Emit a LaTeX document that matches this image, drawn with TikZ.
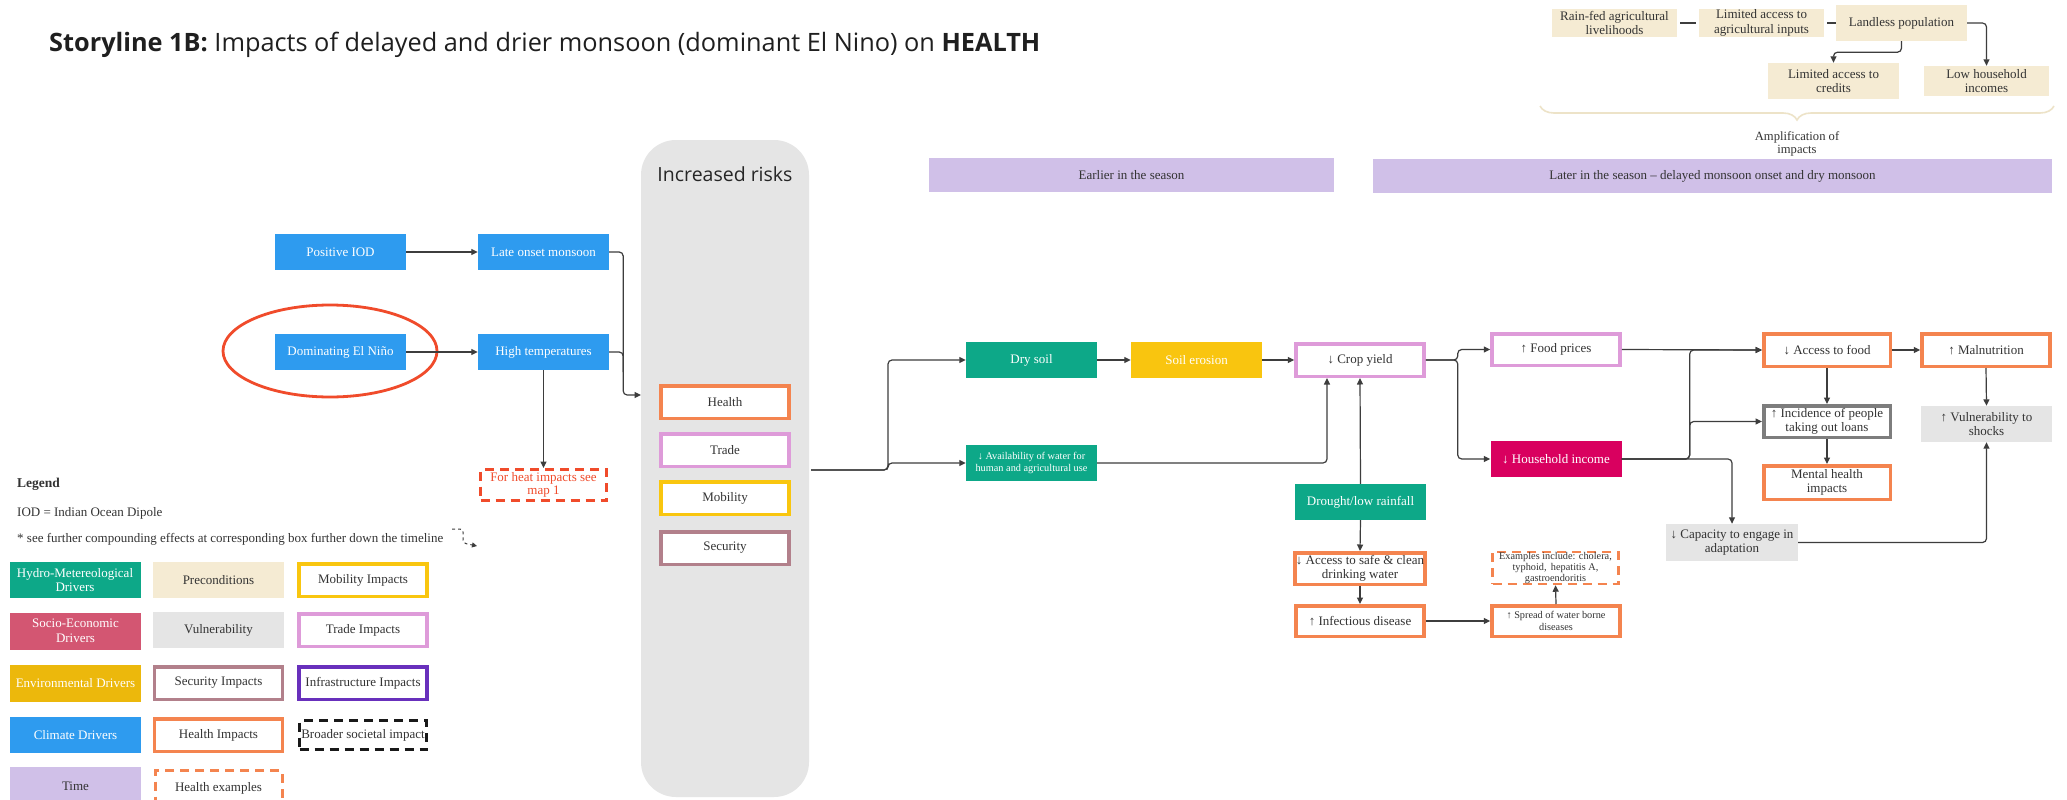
\documentclass[tikz,border=0pt]{standalone}
\usepackage{fontspec}
\setmainfont{Liberation Serif}
\newfontfamily\opensans{Open Sans}
\usetikzlibrary{arrows.meta,decorations.pathreplacing}

\definecolor{clim}{HTML}{2E9BEF}
\definecolor{hydro}{HTML}{0DA888}
\definecolor{envy}{HTML}{F9C50F}
\definecolor{envleg}{HTML}{ECB80C}
\definecolor{socio}{HTML}{D9005F}
\definecolor{socleg}{HTML}{D35672}
\definecolor{precond}{HTML}{F5EBD3}
\definecolor{vulnc}{HTML}{E5E5E5}
\definecolor{timec}{HTML}{D0C0E8}
\definecolor{healthc}{HTML}{F4844F}
\definecolor{tradec}{HTML}{DE9BD9}
\definecolor{mobc}{HTML}{F9C60F}
\definecolor{secc}{HTML}{B2808B}
\definecolor{infrac}{HTML}{6830BC}
\definecolor{loanc}{HTML}{7D7D7D}
\definecolor{heatc}{HTML}{F04B2B}
\definecolor{linec}{HTML}{3D3D3D}
\definecolor{txt}{HTML}{333333}
\definecolor{bracec}{HTML}{EDE3C8}

\tikzset{
  fbig/.style={font=\fontsize{13}{14.5}\selectfont},
  fsmall/.style={font=\fontsize{10.3}{11.5}\selectfont},
  base/.style={rectangle, inner sep=1pt, align=center, text=txt, fbig},
  fillbox/.style={base, minimum width=131pt, minimum height=36pt},
  climbox/.style={fillbox, fill=clim, text=white},
  hydrobox/.style={fillbox, fill=hydro, text=white},
  erosionbox/.style={fillbox, fill=envy, text=white},
  incomebox/.style={fillbox, fill=socio, text=white},
  precbox/.style={fillbox, fill=precond},
  vulnbox/.style={fillbox, fill=vulnc},
  timebar/.style={base, fill=timec, minimum height=34pt},
  outbox/.style={base, fill=white, line width=3.5pt, minimum width=128pt, minimum height=32.5pt},
  healthbox/.style={outbox, draw=healthc},
  tradebox/.style={outbox, draw=tradec},
  mobbox/.style={outbox, draw=mobc},
  secbox/.style={outbox, draw=secc},
  infrabox/.style={outbox, draw=infrac},
  loanbox/.style={outbox, draw=loanc},
  dashbox/.style={base, line width=3pt, dash pattern=on 9pt off 6pt, minimum width=126pt, minimum height=31pt},
  plaintext/.style={inner sep=0pt, text=txt, fbig},
  conn/.style={draw=linec, line width=1.2pt, rounded corners=4pt},
  arr/.style={conn, -{Triangle[length=6.5pt,width=6pt]}},
}

\begin{document}
\begin{tikzpicture}[x=1pt,y=-1pt]
\useasboundingbox (0,0) rectangle (2067,800);
\fill[white] (0,0) rectangle (2067,800);

% ---------- title ----------
\node[anchor=west, inner sep=0pt, text=black!88, font=\opensans\fontsize{25.3}{30}\selectfont] (title) at (49,45)
  {\textbf{Storyline 1B:} Impacts of delayed and drier monsoon (dominant El Nino) on \textbf{HEALTH}};

% ---------- preconditions chain (top right) ----------
\node[precbox, minimum width=125pt, minimum height=28pt] (rainfed) at (1614.5,23) {Rain-fed agricultural\\livelihoods};
\node[precbox, minimum width=125pt, minimum height=28pt] (inputs) at (1761.5,23) {Limited access to\\agricultural inputs};
\node[precbox] (landless) at (1901.5,23) {Landless population};
\node[precbox] (credits) at (1833.5,81) {Limited access to\\credits};
\node[precbox, minimum width=125pt, minimum height=30pt] (lowinc) at (1986.5,81) {Low household\\incomes};
\draw[conn, shorten <=3pt, shorten >=3pt] (rainfed.east) -- (inputs.west);
\draw[conn, shorten <=3pt] (inputs.east) -- (landless.west);
\draw[arr] (landless.east) -| (lowinc.north);
\draw[arr] (landless.south) -- ++(0,11) -| (credits.north);
\draw[bracec, line width=1.6pt, decorate, decoration={brace, mirror, amplitude=14pt}] (1540,106) -- (2054,106);
\node[plaintext, align=center, font=\fontsize{12.6}{13.5}\selectfont] (amplif) at (1797,144) {Amplification of\\impacts};

% ---------- time bars ----------
\node[timebar, minimum width=405pt] (earlier) at (1131.5,175) {Earlier in the season};
\node[timebar, minimum width=679pt] (later) at (1712.5,176) {Later in the season -- delayed monsoon onset and dry monsoon};

% ---------- increased risks column ----------
\node[fill=vulnc, rounded corners=35pt, minimum width=168pt, minimum height=657pt, inner sep=0pt] (riskcol) at (725,468.5) {};
\node[inner sep=0pt, text=black!85, font=\opensans\fontsize{19.5}{23}\selectfont] (risktitle) at (725,174) {Increased risks};
\node[healthbox] (rhealth) at (725,402) {Health};
\node[tradebox] (rtrade) at (725,450) {Trade};
\node[mobbox] (rmob) at (725,498) {Mobility};
\node[secbox] (rsec) at (725,548) {Security};
\coordinate (riskin) at (641,395);
\coordinate (riskout) at (811,470);

% ---------- climate drivers ----------
\node[climbox] (pos) at (340.5,252) {Positive IOD};
\node[climbox] (late) at (543.5,252) {Late onset monsoon};
\node[climbox] (nino) at (340.5,352) {Dominating El Niño};
\node[climbox] (hight) at (543.5,352) {High temperatures};
\draw[heatc, line width=2.8pt] (330,351) ellipse [x radius=107pt, y radius=46pt];
\node[dashbox, draw=heatc, text=heatc, font=\fontsize{13}{13}\selectfont] (heat) at (543.5,485) {For heat impacts see\\map 1};
\draw[arr] (pos.east) -- (late.west);
\draw[arr] (nino.east) -- (hight.west);
\draw[arr] (late.east) -- ++(14,0) |- (riskin);
\draw[conn] (hight.east) -- ++(14,0) -- ++(0,20);
\draw[arr] (hight.south) -- (heat.north);

% ---------- earlier in the season ----------
\node[hydrobox] (dry) at (1031.5,360) {Dry soil};
\node[erosionbox] (erosion) at (1196.5,360) {Soil erosion};
\node[hydrobox, fsmall] (avail) at (1031.5,463) {↓ Availability of water for\\human and agricultural use};
\node[tradebox] (crop) at (1360,360) {↓ Crop yield};
\node[hydrobox] (drought) at (1360.5,502) {Drought/low rainfall};
\draw[arr] (riskout) -- ++(77,0) |- (dry.west);
\draw[arr] (riskout) -- ++(77,0) |- (avail.west);
\draw[arr] (dry.east) -- (erosion.west);
\draw[arr] (erosion.east) -- (crop.west);
\draw[arr] (avail.east) -| ([xshift=-33pt]crop.south);
\draw[arr] (drought.north) -- (crop.south);

% ---------- water and disease ----------
\node[healthbox, minimum height=31.5pt] (water) at (1360,568.5) {↓ Access to safe \& clean\\drinking water};
\node[healthbox, minimum height=30.5pt] (infect) at (1360,621) {↑ Infectious disease};
\node[healthbox, minimum height=30.5pt, fsmall] (spread) at (1556,621) {↑ Spread of water borne\\diseases};
\node[dashbox, draw=healthc, line width=2.5pt, font=\fontsize{10.3}{11.3}\selectfont, inner sep=0pt] (examples) at (1555.5,568) {Examples include: cholera,\\typhoid,\, hepatitis A,\\gastroendoritis};
\draw[arr] (drought.south) -- (water.north);
\draw[arr] (water.south) -- (infect.north);
\draw[arr] (infect.east) -- (spread.west);
\draw[arr] (spread.north) -- (examples.south);

% ---------- later in the season ----------
\node[tradebox, minimum height=31.5pt] (food) at (1556,349.5) {↑ Food prices};
\node[incomebox] (income) at (1556,459) {↓ Household income};
\node[healthbox, minimum width=126.5pt] (accfood) at (1827,350) {↓ Access to food};
\node[healthbox] (malnut) at (1986,350) {↑ Malnutrition};
\node[loanbox, minimum width=126.5pt, minimum height=31.5pt] (loans) at (1827,421.5) {↑ Incidence of people\\taking out loans};
\node[healthbox, minimum width=126.5pt, minimum height=33.5pt] (mental) at (1827,482.5) {Mental health\\impacts};
\node[vulnbox] (vulner) at (1986.5,424) {↑ Vulnerability to\\shocks};
\node[vulnbox, minimum width=132pt, minimum height=37pt] (capacity) at (1732,542.5) {↓ Capacity to engage in\\adaptation};
\draw[arr] (crop.east) -- ++(32,0) |- (food.west);
\draw[arr] (crop.east) -- ++(32,0) |- (income.west);
\draw[arr] (food.east) -- (accfood.west);
\draw[arr] (income.east) -- ++(68,0) |- (accfood.west);
\draw[arr] (income.east) -- ++(68,0) |- (loans.west);
\draw[arr] (income.east) -| (capacity.north);
\draw[arr] (accfood.east) -- (malnut.west);
\draw[arr] (accfood.south) -- (loans.north);
\draw[arr] (loans.south) -- (mental.north);
\draw[arr] (malnut.south) -- (vulner.north);
\draw[arr] (capacity.east) -| (vulner.south);

% ---------- legend ----------
\node[plaintext, anchor=west, font=\bfseries\fontsize{13.5}{15}\selectfont] (leghead) at (17,484) {Legend};
\node[plaintext, anchor=west] (legiod) at (17,513) {IOD = Indian Ocean Dipole};
\node[plaintext, anchor=west] (legstar) at (17,539) {* see further compounding effects at corresponding box further down the timeline};
\coordinate (dashA) at (452,529);
\draw[linec, line width=1pt, dashed, rounded corners=3pt, -{Triangle[length=5pt,width=5pt]}] (dashA) -- ++(11,0) -- ++(0,14) -- ++(14,3);

\node[hydrobox] (lg1) at (75,580) {Hydro-Metereological\\Drivers};
\node[precbox] (lg2) at (218.5,580) {Preconditions};
\node[mobbox] (lg3) at (363,580) {Mobility Impacts};
\node[fillbox, fill=socleg, text=white, minimum height=37pt] (lg4) at (75.5,631) {Socio-Economic\\Drivers};
\node[vulnbox] (lg5) at (218.5,630) {Vulnerability};
\node[tradebox] (lg6) at (363,630) {Trade Impacts};
\node[fillbox, fill=envleg, text=white, minimum height=37pt] (lg7) at (75.5,683) {Environmental Drivers};
\node[secbox] (lg8) at (218.5,683) {Security Impacts};
\node[infrabox] (lg9) at (363,683) {Infrastructure Impacts};
\node[climbox] (lg10) at (75.5,735) {Climate Drivers};
\node[healthbox] (lg11) at (218.5,735) {Health Impacts};
\node[dashbox, draw=black!90, minimum width=127pt, minimum height=29pt] (lg12) at (363,735) {Broader societal impact};
\node[fillbox, fill=timec, minimum height=38pt] (lg13) at (75.5,786) {Time};
\node[dashbox, draw=healthc, minimum width=127pt, minimum height=35pt] (lg14) at (218.5,788) {Health examples};

\end{tikzpicture}
\end{document}
